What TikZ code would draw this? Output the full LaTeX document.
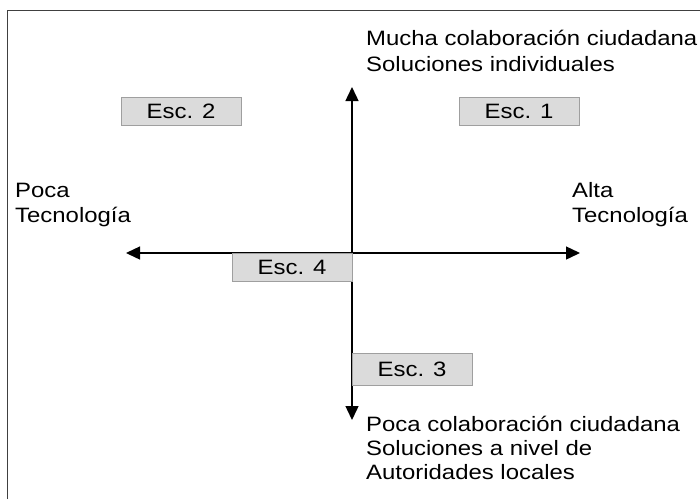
\documentclass[tikz,border=0pt]{standalone}
\usepackage{fontspec}
\setmainfont{Liberation Sans}
\usetikzlibrary{arrows.meta}
\newcommand\stretchtxt[1]{\scalebox{1.15}[1]{#1}}
\tikzset{
  lbl/.style={anchor=base west, inner sep=0pt, font=\fontsize{20.8}{24}\selectfont},
  escbox/.style={draw=gray!75, line width=0.8pt, fill=gray!28, minimum width=120pt, minimum height=28pt, inner sep=0pt, font=\fontsize{20.8}{24}\selectfont},
  axis/.style={line width=1.4pt, -{Triangle[length=14pt,width=13pt]}},
  frame/.style={line width=0.9pt, draw=black!75}
}
\begin{document}
\begin{tikzpicture}[x=1pt,y=-1pt]
\useasboundingbox (0,0) rectangle (700,499);
\fill[white] (0,0) rectangle (700,499);
% frame
\coordinate (fa) at (7,499);
\coordinate (fb) at (7,10);
\coordinate (fc) at (700,10);
\draw[frame] (fa) -- (fb) -- (fc);
% axes
\coordinate (o) at (352,253);
\coordinate (top) at (352,87);
\coordinate (bot) at (352,420);
\coordinate (lft) at (126,253);
\coordinate (rgt) at (580,253);
\draw[axis] (o) -- (top);
\draw[axis] (o) -- (bot);
\draw[axis] (o) -- (lft);
\draw[axis] (o) -- (rgt);
% boxes
\node[escbox] (e2) at (181,111) {\stretchtxt{Esc. 2}};
\node[escbox] (e1) at (519,111) {\stretchtxt{Esc. 1}};
\node[escbox] (e4) at (292,267) {\stretchtxt{Esc. 4}};
\node[escbox, minimum height=32pt] (e3) at (412,369) {\stretchtxt{Esc. 3}};
% labels
\node[lbl] (t1) at (366,45) {\stretchtxt{Mucha colaboración ciudadana}};
\node[lbl] (t2) at (366,71) {\stretchtxt{Soluciones individuales}};
\node[lbl] (l1) at (15,197) {\stretchtxt{Poca}};
\node[lbl] (l2) at (15,222) {\stretchtxt{Tecnología}};
\node[lbl] (r1) at (572,197) {\stretchtxt{Alta}};
\node[lbl] (r2) at (572,222) {\stretchtxt{Tecnología}};
\node[lbl] (b1) at (366,431) {\stretchtxt{Poca colaboración ciudadana}};
\node[lbl] (b2) at (366,455) {\stretchtxt{Soluciones a nivel de}};
\node[lbl] (b3) at (366,479) {\stretchtxt{Autoridades locales}};
\end{tikzpicture}
\end{document}
